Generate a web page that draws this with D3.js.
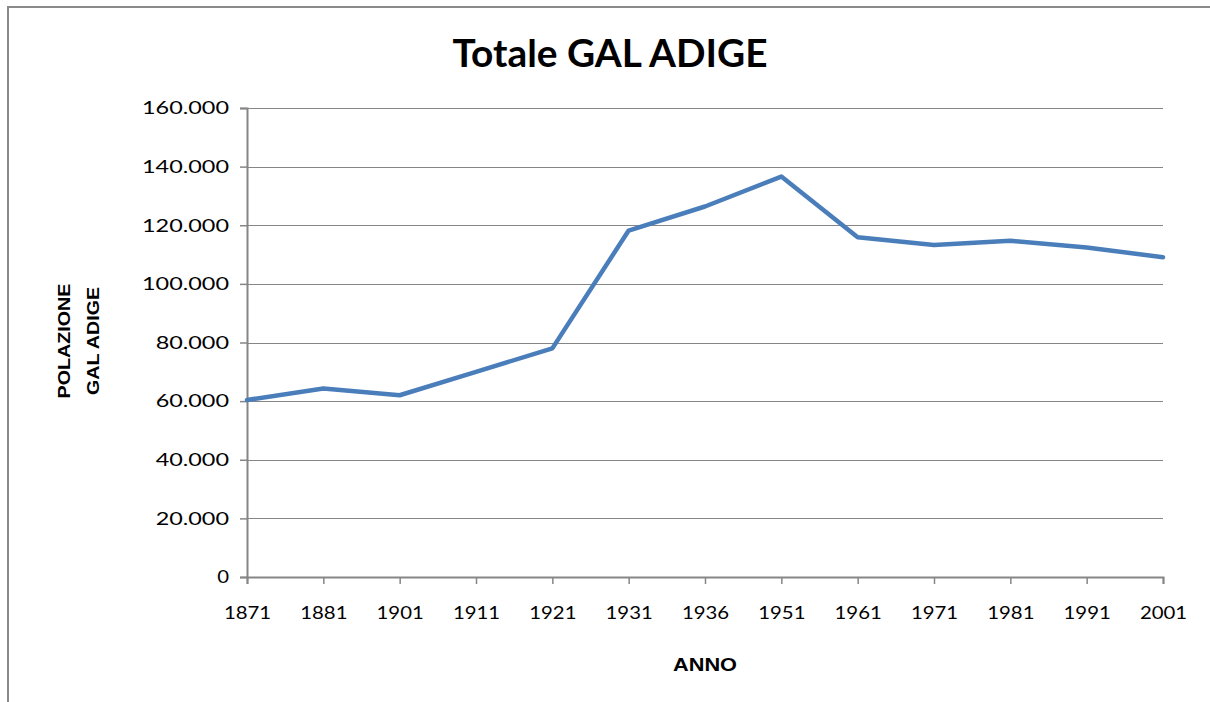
<!DOCTYPE html>
<html>
<head>
<meta charset="utf-8">
<script src="https://cdn.jsdelivr.net/npm/d3@7"></script>
<style>
  html, body { margin: 0; padding: 0; background: #fff; }
  svg { display: block; }
</style>
</head>
<body>
<svg id="chart" width="1210" height="702"></svg>
<script>
const title = "Totale GAL ADIGE";
const yTitleLines = ["POLAZIONE", "GAL ADIGE"];
const xTitle = "ANNO";
const years = ["1871","1881","1901","1911","1921","1931","1936","1951","1961","1971","1981","1991","2001"];
const population = [60400, 64300, 62000, 70000, 78000, 118200, 126400, 136600, 115900, 113300, 114700, 112400, 109100];
const yTickValues = [0, 20000, 40000, 60000, 80000, 100000, 120000, 140000, 160000];

const svg = d3.select("#chart");
const plotLeft = 247, plotRight = 1163, plotTop = 108, plotBottom = 577;

const x = d3.scalePoint().domain(years).range([plotLeft, plotRight]);
const y = d3.scaleLinear().domain([0, 160000]).range([plotBottom, plotTop]);

const itFmt = d3.formatLocale({decimal: ",", thousands: ".", grouping: [3], currency: ["", "€"]}).format(",d");

// frame
svg.append("path")
  .attr("d", "M8,702 L8,7 L1210,7")
  .attr("fill", "none").attr("stroke", "#8a8a8a").attr("stroke-width", 2);

// gridlines
svg.append("g").selectAll("line").data(yTickValues.filter(d => d > 0)).join("line")
  .attr("x1", plotLeft).attr("x2", plotRight)
  .attr("y1", d => Math.round(y(d)) + 0.5).attr("y2", d => Math.round(y(d)) + 0.5)
  .attr("stroke", "#868686").attr("stroke-width", 1.2);

// y axis
const yAxis = svg.append("g").attr("transform", `translate(${plotLeft},0)`)
  .call(d3.axisLeft(y).tickValues(yTickValues).tickFormat(itFmt).tickSize(7).tickPadding(11));
yAxis.select(".domain").attr("stroke", "#868686").attr("stroke-width", 2);
yAxis.selectAll(".tick line").attr("stroke", "#868686").attr("stroke-width", 1.5);
yAxis.selectAll("text").attr("font-family", "Lato, 'Open Sans', sans-serif").attr("font-size", 18).attr("fill", "#000");
yAxis.selectAll(".tick text").each(function(d) {
  const w = this.getComputedTextLength();
  d3.select(this).attr("textLength", w * (d === 0 ? 1.13 : 1.3)).attr("lengthAdjust", "spacingAndGlyphs");
});

// x axis
const xAxis = svg.append("g").attr("transform", `translate(0,${plotBottom})`)
  .call(d3.axisBottom(x).tickSize(7).tickPadding(22));
xAxis.select(".domain").attr("stroke", "#868686").attr("stroke-width", 2);
xAxis.selectAll(".tick line").attr("stroke", "#868686").attr("stroke-width", 1.5);
xAxis.selectAll("text").attr("font-family", "Lato, 'Open Sans', sans-serif").attr("font-size", 18).attr("fill", "#000");
xAxis.selectAll(".tick text").each(function() {
  const w = this.getComputedTextLength();
  d3.select(this).attr("textLength", w * 1.13).attr("lengthAdjust", "spacingAndGlyphs");
});

// line
svg.append("path")
  .datum(population)
  .attr("fill", "none")
  .attr("stroke", "#4a7ebb")
  .attr("stroke-width", 4.5)
  .attr("stroke-linejoin", "round")
  .attr("stroke-linecap", "round")
  .attr("d", d3.line().x((d, i) => x(years[i])).y(d => y(d)));

// title
svg.append("text")
  .attr("x", 610).attr("y", 67)
  .attr("text-anchor", "middle")
  .attr("font-family", "Lato, 'Open Sans', sans-serif")
  .attr("font-weight", "bold").attr("font-size", 38)
  .attr("textLength", 315).attr("lengthAdjust", "spacingAndGlyphs")
  .text(title);

// y title
const yt = svg.append("text")
  .attr("transform", "translate(0,341) rotate(-90)")
  .attr("text-anchor", "middle")
  .attr("font-family", "'Liberation Sans', Arial, sans-serif")
  .attr("font-weight", "bold").attr("font-size", 17);
const yTitleLengths = [115, 108];
yTitleLines.forEach((t, i) => {
  yt.append("tspan").attr("x", 0).attr("y", 70 + i * 29)
    .attr("textLength", yTitleLengths[i]).attr("lengthAdjust", "spacingAndGlyphs")
    .text(t);
});

// x title
svg.append("text")
  .attr("x", 705).attr("y", 671)
  .attr("text-anchor", "middle")
  .attr("font-family", "'Liberation Sans', Arial, sans-serif")
  .attr("font-weight", "bold").attr("font-size", 19)
  .attr("textLength", 64).attr("lengthAdjust", "spacingAndGlyphs")
  .text(xTitle);
</script>
</body>
</html>
